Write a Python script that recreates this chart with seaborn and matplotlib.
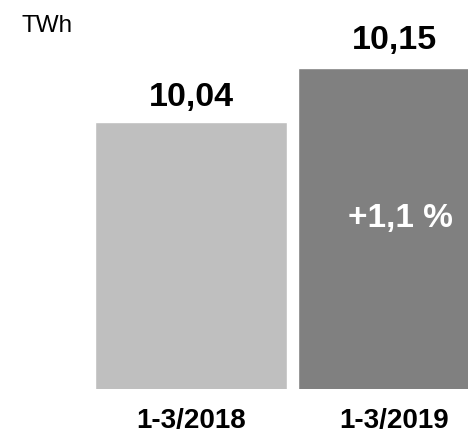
import matplotlib
matplotlib.use("Agg")
import matplotlib.pyplot as plt
import seaborn as sns
import pandas as pd

categories = ["1-3/2018", "1-3/2019"]
values = [10.04, 10.15]
value_labels = ["10,04", "10,15"]
change_label = "+1,1 %"
unit_label = "TWh"
colors = ["#bfbfbf", "#808080"]

sns.set_theme(style="white")
plt.rcParams["font.family"] = ["Liberation Sans", "DejaVu Sans"]

df = pd.DataFrame({"period": categories, "twh": values})

W, H = 468, 433
fig = plt.figure(figsize=(W / 100, H / 100), dpi=100)
ax = fig.add_axes([95 / W, 44 / H, (W - 95) / W, 389 / H])

sns.barplot(data=df, x="period", y="twh", hue="period", palette=colors,
            width=0.946, legend=False, ax=ax, saturation=1)

ax.set_xlim(-0.473, 1.3645)
ax.set_ylim(9.5, 9.5 + 387 / 491)
for s in ax.spines.values():
    s.set_visible(False)
ax.set_xlabel("")
ax.set_ylabel("")
ax.set_yticks([])
ax.tick_params(axis="x", length=0, pad=14, labelsize=20)
for lab in ax.get_xticklabels():
    lab.set_fontweight("bold")
    lab.set_color("black")

offsets = [12, 13.5]
for i, (v, t) in enumerate(zip(values, value_labels)):
    ax.annotate(t, (i, v), xytext=(0, offsets[i]), textcoords="offset points",
                ha="center", va="baseline", fontsize=24.5, fontweight="bold",
                color="black")

base = 9.5
ax.text(1.03, base + 0.53 * (values[1] - base), change_label, ha="center",
        va="center", fontsize=24, fontweight="bold", color="white")

fig.text(22 / W, 1 - 32 / H, unit_label, ha="left", va="baseline",
         fontsize=17.5, color="black")

fig.savefig("out.png", dpi=100)
